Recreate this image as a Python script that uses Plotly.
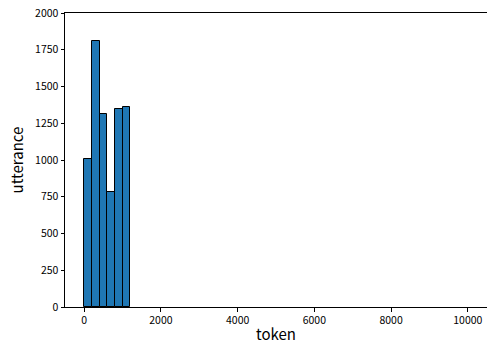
import plotly.graph_objects as go

bin_left = [0, 200, 400, 600, 800, 1000]
bin_width = 200
counts = [1005, 1810, 1315, 785, 1347, 1358]
x_ticks = [0, 2000, 4000, 6000, 8000, 10000]
y_ticks = [0, 250, 500, 750, 1000, 1250, 1500, 1750, 2000]

fig = go.Figure(go.Bar(
    x=[b + bin_width / 2 for b in bin_left],
    y=counts,
    width=[bin_width] * len(counts),
    marker=dict(color="#1f77b4", line=dict(color="black", width=1)),
))

font = "Noto Sans CJK JP, sans-serif"
fig.update_layout(
    width=487, height=347,
    margin=dict(l=65, r=0, t=13, b=40, autoexpand=False),
    plot_bgcolor="white", paper_bgcolor="white",
    showlegend=False,
    font=dict(family=font, size=10.5, color="black"),
    bargap=0,
)
fig.update_xaxes(
    range=[-500, 10500], tickvals=x_ticks, ticktext=[str(v) for v in x_ticks],
    showgrid=False, zeroline=False, showline=True, linecolor="black", linewidth=1,
    mirror=True, ticks="outside", ticklen=3.5, tickcolor="black", automargin=False,
    ticklabeloverflow="allow",
    title=dict(text="token", font=dict(size=15, family=font), standoff=3),
)
fig.update_yaxes(
    range=[0, 2000], tickvals=y_ticks, ticktext=[str(v) for v in y_ticks],
    showgrid=False, zeroline=False, showline=True, linecolor="black", linewidth=1,
    mirror=False, ticks="outside", ticklen=3.5, tickcolor="black", automargin=False,
    ticklabeloverflow="allow",
    title=dict(text="utterance", font=dict(size=15, family=font), standoff=7),
)
fig.write_html(
    "out.html",
    config={"displayModeBar": False},
    post_script="document.body.style.margin='0';document.body.style.overflow='hidden';",
)
